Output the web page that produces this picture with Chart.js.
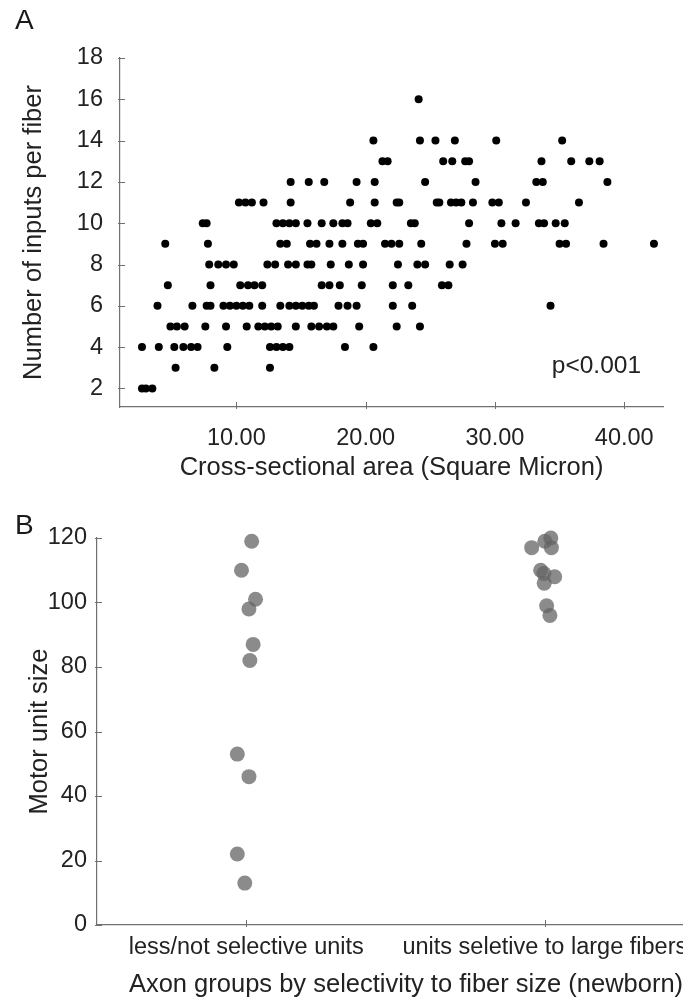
<!DOCTYPE html>
<html>
<head>
<meta charset="utf-8">
<script src="https://cdn.jsdelivr.net/npm/chart.js@4.4.1/dist/chart.umd.min.js"></script>
<style>
  html, body { margin: 0; padding: 0; background: #fff; }
  body { width: 683px; height: 1005px; overflow: hidden; position: relative; font-family: "Liberation Sans", Arial, sans-serif; }
  #chartA { position: absolute; left: 0; top: 0; }
  #chartB { position: absolute; left: 0; top: 490px; }
  .panel-letter { position: absolute; left: 15px; font-size: 28px; line-height: 28px; color: #1a1a1a; }
</style>
</head>
<body>
<canvas id="chartA" width="683" height="490"></canvas>
<canvas id="chartB" width="740" height="515"></canvas>
<div class="panel-letter" style="top:6px">A</div>
<div class="panel-letter" style="top:511px">B</div>

<script>
// panel A: fibre area vs number of inputs, one list of areas per input count
const inputLevels = [2, 3, 4, 5, 6, 7, 8, 9, 10, 11, 12, 13, 14, 16];
const areasByLevel = [
  [2.7, 3.0, 3.5],
  [5.3, 8.3, 12.6],
  [2.7, 4.0, 5.2, 5.9, 6.5, 7.0, 9.3, 12.6, 13.1, 13.6, 14.1, 18.4, 20.6],
  [4.9, 5.4, 6.0, 7.6, 9.2, 10.8, 11.7, 12.2, 12.7, 13.2, 14.6, 15.8, 16.4, 17.0, 17.5, 19.5, 22.4, 24.2],
  [3.9, 6.6, 7.7, 8.0, 9.0, 9.5, 10.0, 10.5, 11.0, 12.0, 13.4, 14.1, 14.6, 15.1, 15.6, 16.0, 17.9, 18.6, 19.3, 22.1, 23.6, 34.3],
  [4.7, 8.0, 10.3, 10.9, 11.4, 12.0, 16.6, 17.2, 18.0, 19.7, 22.1, 23.3, 25.9, 26.4],
  [7.9, 8.6, 9.2, 9.8, 12.4, 13.0, 14.0, 14.6, 15.5, 15.8, 17.3, 18.7, 19.8, 22.5, 24.0, 24.6, 26.5, 27.5],
  [4.5, 7.8, 13.4, 13.9, 15.7, 16.2, 17.2, 18.2, 19.4, 19.8, 21.5, 22.0, 22.6, 24.3, 27.8, 30.0, 30.6, 35.0, 35.5, 38.4, 42.3],
  [7.4, 7.7, 13.1, 13.6, 14.1, 14.6, 15.5, 16.6, 17.5, 18.2, 18.6, 20.4, 20.9, 23.5, 23.8, 28.0, 30.5, 31.6, 33.4, 33.8, 34.7, 35.4],
  [10.2, 10.7, 11.2, 12.1, 14.2, 18.8, 20.7, 22.4, 22.6, 25.5, 25.7, 26.6, 27.0, 27.4, 28.3, 29.8, 30.3, 32.4, 36.5],
  [14.2, 15.6, 16.8, 19.3, 20.7, 24.6, 28.5, 33.2, 33.7, 38.7],
  [21.3, 21.7, 26.0, 26.7, 27.7, 28.0, 33.6, 35.9, 37.3, 38.1],
  [20.6, 24.2, 25.4, 26.9, 30.1, 35.2],
  [24.1]
];
const areaTicks = [10, 20, 30, 40];
const inputTicks = [2, 4, 6, 8, 10, 12, 14, 16, 18];
const pValueText = 'p<0.001';

// panel B: motor unit size per axon group (jitter = horizontal offset)
const groupLabels = ['less/not selective units', 'units seletive to large fibers'];
const lessSelectiveSizes = [119, 110, 101, 98, 87, 82, 53, 46, 22, 13];
const lessSelectiveJitter = [0.018, -0.016, 0.031, 0.009, 0.023, 0.012, -0.030, 0.009, -0.030, -0.005];
const largeSelectiveSizes = [117, 119, 120, 117, 110, 109, 108, 106, 99, 96];
const largeSelectiveJitter = [-0.044, 0, 0.020, 0.022, -0.014, -0.003, 0.033, -0.002, 0.006, 0.017];
const sizeTicks = [0, 20, 40, 60, 80, 100, 120];

Chart.defaults.font.family = '"Liberation Sans", Arial, sans-serif';
Chart.defaults.font.size = 23.5;
Chart.defaults.color = '#222';

const axisGray = '#707070';
const titleFont = { size: 25.5 };

function fixedTicks(values) {
  return axis => { axis.ticks = values.map(v => ({ value: v })); };
}

// small tick marks pointing into the plot, like the original figure
const inwardTicks = {
  id: 'inwardTicks',
  afterDraw(chart) {
    const { ctx, chartArea } = chart;
    const x = chart.scales.x, y = chart.scales.y;
    ctx.save();
    ctx.strokeStyle = axisGray;
    ctx.lineWidth = 1;
    ctx.beginPath();
    x.ticks.forEach(t => {
      const px = Math.round(x.getPixelForValue(t.value)) + 0.5;
      ctx.moveTo(px, chartArea.bottom + 2);
      ctx.lineTo(px, chartArea.bottom - 5);
    });
    y.ticks.forEach(t => {
      const py = Math.round(y.getPixelForValue(t.value)) + 0.5;
      ctx.moveTo(chartArea.left - 2, py);
      ctx.lineTo(chartArea.left + 5, py);
    });
    ctx.stroke();
    ctx.restore();
  }
};

const pValueLabel = {
  id: 'pValueLabel',
  afterDatasetsDraw(chart) {
    const { ctx, scales: { x, y } } = chart;
    ctx.save();
    ctx.font = '24.5px "Liberation Sans", Arial, sans-serif';
    ctx.fillStyle = '#222';
    ctx.textBaseline = 'alphabetic';
    ctx.fillText(pValueText, x.getPixelForValue(34.4), y.getPixelForValue(2.73));
    ctx.restore();
  }
};

const pointsA = [];
inputLevels.forEach((n, i) => {
  areasByLevel[i].forEach(a => pointsA.push({ x: a, y: n }));
});

new Chart('chartA', {
  type: 'scatter',
  data: {
    datasets: [{
      data: pointsA,
      backgroundColor: '#000',
      borderWidth: 0,
      pointRadius: 4,
      clip: false
    }]
  },
  options: {
    responsive: false,
    animation: false,
    layout: { padding: { top: 58, right: 20, bottom: 0, left: 0 } },
    plugins: { legend: { display: false }, tooltip: { enabled: false } },
    scales: {
      x: {
        type: 'linear',
        min: 1,
        max: 43,
        afterBuildTicks: fixedTicks(areaTicks),
        afterFit: s => { s.height = 83; },
        grid: { drawOnChartArea: false, drawTicks: false },
        border: { color: axisGray, width: 1.2 },
        ticks: { padding: 17, maxRotation: 0, callback: v => v.toFixed(2) },
        title: { display: true, text: 'Cross-sectional area (Square Micron)', font: titleFont, padding: { top: 0, bottom: 7 } }
      },
      y: {
        type: 'linear',
        min: 1.1,
        max: 18,
        afterBuildTicks: fixedTicks(inputTicks),
        afterFit: s => { s.width = 120; },
        grid: { drawOnChartArea: false, drawTicks: false },
        border: { color: axisGray, width: 1.2 },
        ticks: { padding: 17 },
        title: { display: true, text: 'Number of inputs per fiber', font: titleFont, padding: { top: 19, bottom: 0 } }
      }
    }
  },
  plugins: [inwardTicks, pValueLabel]
});

new Chart('chartB', {
  type: 'scatter',
  data: {
    datasets: [
      {
        data: lessSelectiveSizes.map((v, i) => ({ x: 1 + lessSelectiveJitter[i], y: v })),
        backgroundColor: 'rgba(100,100,100,0.75)',
        borderWidth: 0,
        pointRadius: 7.5,
        clip: false
      },
      {
        data: largeSelectiveSizes.map((v, i) => ({ x: 2 + largeSelectiveJitter[i], y: v })),
        backgroundColor: 'rgba(100,100,100,0.75)',
        borderWidth: 0,
        pointRadius: 7.5,
        clip: false
      }
    ]
  },
  options: {
    responsive: false,
    animation: false,
    layout: { padding: { top: 48, right: 25, bottom: 0, left: 0 } },
    plugins: { legend: { display: false }, tooltip: { enabled: false } },
    scales: {
      x: {
        type: 'linear',
        min: 0.5,
        max: 2.57,
        afterBuildTicks: fixedTicks([1, 2]),
        afterFit: s => { s.height = 80; },
        grid: { drawOnChartArea: false, drawTicks: false },
        border: { color: axisGray, width: 1.2 },
        ticks: { padding: 8, maxRotation: 0, autoSkip: false, callback: (v, i) => groupLabels[i] },
        title: { display: true, text: 'Axon groups by selectivity to fiber size (newborn)', font: titleFont, padding: { top: 0, bottom: 5 } }
      },
      y: {
        type: 'linear',
        min: 0,
        max: 120,
        afterBuildTicks: fixedTicks(sizeTicks),
        afterFit: s => { s.width = 97; },
        grid: { drawOnChartArea: false, drawTicks: false },
        border: { color: axisGray, width: 1.2 },
        ticks: { padding: 10 },
        title: { display: true, text: 'Motor unit size', font: titleFont, padding: { top: 25, bottom: 0 } }
      }
    }
  },
  plugins: [inwardTicks]
});
</script>
</body>
</html>
